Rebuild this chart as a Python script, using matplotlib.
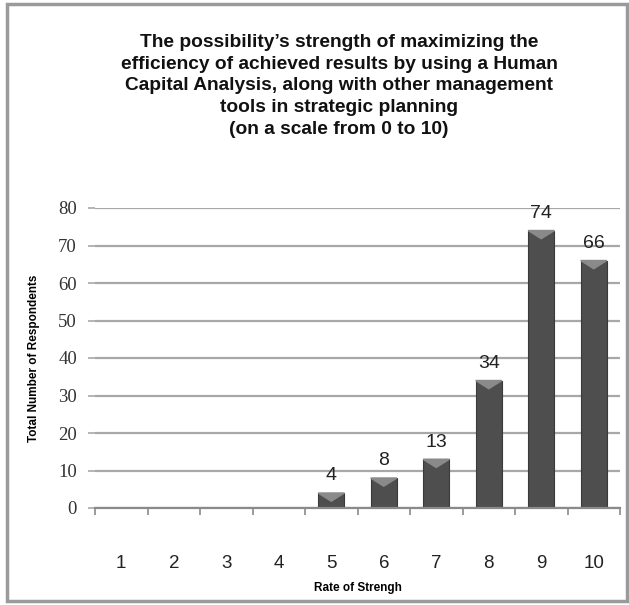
import numpy as np, matplotlib; matplotlib.use('Agg'); import matplotlib.pyplot as plt
from matplotlib.patches import Rectangle

rates = ['1', '2', '3', '4', '5', '6', '7', '8', '9', '10']
counts = [0, 0, 0, 0, 4, 8, 13, 34, 74, 66]
yticks = [0, 10, 20, 30, 40, 50, 60, 70, 80]
title = ("The possibility\u2019s strength of maximizing the\n"
         "efficiency of achieved results by using a Human\n"
         "Capital Analysis, along with other management\n"
         "tools in strategic planning\n"
         "(on a scale from 0 to 10)")

fig = plt.figure(figsize=(6.29, 6.05), dpi=100)
fig.patches.append(Rectangle((7/629, 4/605), 620/629, 597/605, transform=fig.transFigure,
                             fill=False, edgecolor='#9a9a9a', lw=2.5))
ax = fig.add_axes([95/629, 1-508/605, 525/629, 300/605])
x = np.arange(len(rates))
ax.set_axisbelow(True)
ax.yaxis.grid(True, color='#a8a8a8', lw=1.6)
bars = ax.bar(x, counts, width=0.5, color='#4e4e4e', edgecolor='#3a3a3a', lw=0.8)
for xi, v in zip(x, counts):
    if v > 0:
        # lighter bevel at the top of each bar
        ax.fill([xi-0.25, xi+0.25, xi], [v, v, v-2.2], color='#8a8a8a', zorder=3)
        ax.text(xi, v+2.3, str(v), ha='center', va='bottom', fontsize=14,
                family='Liberation Sans', color='#222222')
ax.set_xlim(-0.5, len(rates)-0.5)
ax.set_ylim(0, 80)
ax.set_yticks(yticks)
ax.set_yticklabels([str(t) for t in yticks], family='Liberation Serif', fontsize=13.5, color='#333333')
ax.set_xticks(x)
ax.set_xticklabels(rates, family='Liberation Sans', fontsize=13.5, color='#222222')
ax.set_xticks(np.arange(-0.5, len(rates)), minor=True)
ax.tick_params(axis='x', which='major', length=0, pad=34)
ax.tick_params(axis='x', which='minor', length=5, color='#8a8a8a', width=1.2)
ax.tick_params(axis='y', length=5, color='#a8a8a8', width=1.2, pad=8)
for s in ['top', 'right', 'left']:
    ax.spines[s].set_visible(False)
ax.spines['bottom'].set_color('#8a8a8a'); ax.spines['bottom'].set_linewidth(1.6)
ax.set_xlabel('Rate of Strengh', fontsize=8.5, fontweight='bold', family='Liberation Sans', labelpad=7)
fig.text(34/629, 1-358/605, 'Total Number of Respondents', rotation=90, ha='center', va='center',
         fontsize=8.5, fontweight='bold', family='Liberation Sans')
fig.text(339/629, 1-86/605, title, ha='center', va='center', fontsize=13.8, fontweight='bold',
         family='Liberation Sans', linespacing=1.37, color='#111111')
fig.savefig('out.png', dpi=100)
